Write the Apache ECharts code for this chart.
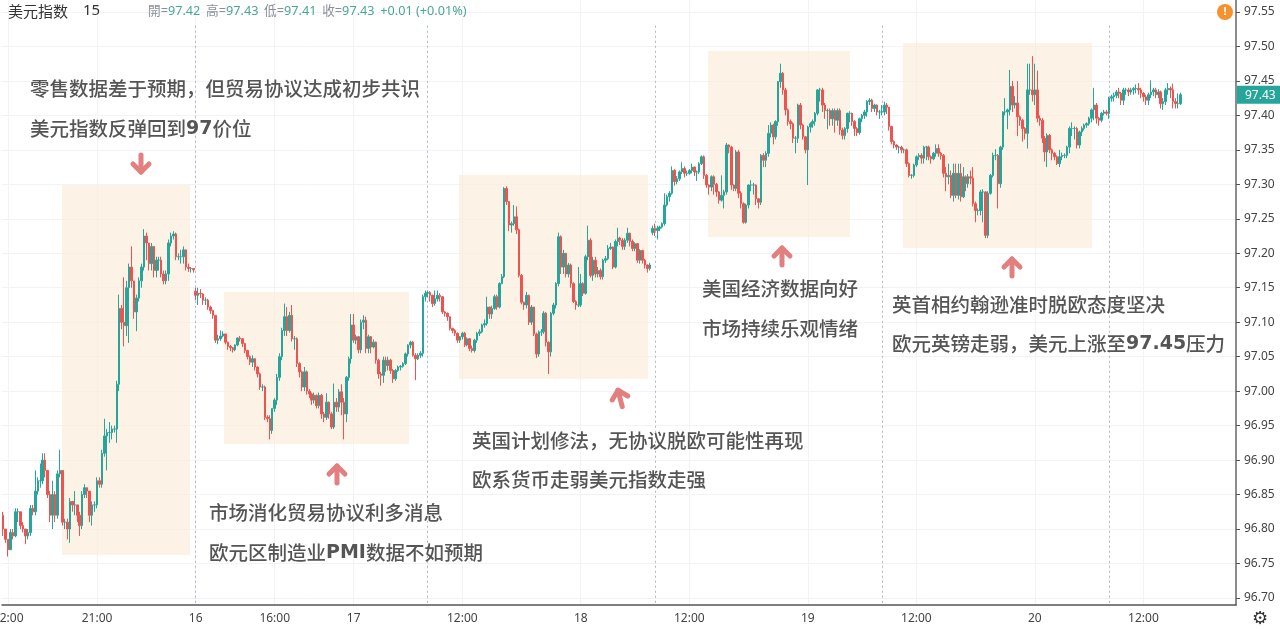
<!DOCTYPE html>
<html><head><meta charset="utf-8">
<style>html,body{margin:0;padding:0;background:#fff}#c{width:1280px;height:630px}</style>
<script src="https://cdn.jsdelivr.net/npm/echarts@6/dist/echarts.min.js"></script>
</head><body><div id="c"></div>
<script>
const priceTicks=[96.70,96.75,96.80,96.85,96.90,96.95,97.00,97.05,97.10,97.15,97.20,97.25,97.30,97.35,97.40,97.45,97.50,97.55];
const tickSlots=[2,38,78,110,142,186,234,278,326,370,418,462];
const tickLabels=['12:00','21:00','16','16:00','17','12:00','18','12:00','19','12:00','20','12:00'];
const sessionStarts=[78,172,264,356,448];
const firstOpen=96.82;
const gapOpens={78:97.145,263:97.23};
const lastPrice=97.43;
const closes=[
96.80,96.785,96.77,96.795,96.79,96.825,96.825,96.805,96.80,96.79,
96.795,96.83,96.825,96.855,96.87,96.87,96.90,96.885,96.85,96.82,
96.85,96.82,96.88,96.885,96.81,96.81,96.80,96.84,96.835,96.835,
96.82,96.805,96.85,96.86,96.855,96.82,96.835,96.835,96.87,96.865,
96.91,96.935,96.94,96.94,96.945,96.945,97.01,97.12,97.10,97.095,
97.15,97.18,97.16,97.115,97.135,97.16,97.18,97.225,97.215,97.185,
97.21,97.175,97.19,97.19,97.17,97.16,97.17,97.215,97.225,97.228,
97.195,97.195,97.195,97.205,97.18,97.178,97.178,97.176,97.139,97.142,
97.141,97.132,97.132,97.122,97.117,97.11,97.074,97.076,97.08,97.083,
97.071,97.065,97.063,97.06,97.067,97.077,97.076,97.069,97.059,97.05,
97.042,97.047,97.035,97.025,97.006,97.006,96.962,96.96,96.943,96.975,
96.987,97.02,97.05,97.088,97.108,97.088,97.11,97.076,97.076,97.04,
97.028,97.006,97.028,97.0,96.996,96.987,96.994,96.979,96.994,96.967,
96.962,96.984,96.967,96.948,96.984,96.977,96.999,96.984,96.967,97.02,
97.047,97.096,97.074,97.079,97.06,97.10,97.103,97.062,97.079,97.064,
97.071,97.045,97.025,97.023,97.045,97.037,97.045,97.03,97.018,97.03,
97.035,97.036,97.04,97.054,97.067,97.071,97.052,97.047,97.052,97.055,
97.137,97.142,97.143,97.139,97.127,97.134,97.139,97.137,97.115,97.113,
97.108,97.091,97.088,97.084,97.074,97.079,97.084,97.067,97.076,97.062,
97.059,97.074,97.084,97.086,97.096,97.098,97.122,97.112,97.12,97.137,
97.122,97.156,97.166,97.294,97.275,97.241,97.243,97.253,97.234,97.168,
97.129,97.125,97.139,97.10,97.122,97.083,97.054,97.086,97.086,97.113,
97.071,97.057,97.113,97.125,97.156,97.224,97.18,97.20,97.17,97.183,
97.156,97.13,97.125,97.125,97.156,97.142,97.195,97.219,97.168,97.19,
97.17,97.175,97.166,97.19,97.192,97.207,97.209,97.18,97.217,97.222,
97.219,97.21,97.219,97.229,97.217,97.207,97.214,97.19,97.204,97.19,
97.183,97.178,97.183,97.236,97.233,97.236,97.238,97.243,97.27,97.282,
97.287,97.32,97.304,97.308,97.318,97.323,97.316,97.316,97.32,97.325,
97.318,97.318,97.33,97.34,97.313,97.299,97.296,97.311,97.30,97.289,
97.277,97.284,97.289,97.357,97.354,97.299,97.294,97.347,97.287,97.272,
97.245,97.27,97.299,97.299,97.299,97.279,97.274,97.342,97.335,97.345,
97.374,97.386,97.369,97.391,97.449,97.461,97.437,97.408,97.391,97.388,
97.367,97.367,97.415,97.386,97.369,97.35,97.383,97.388,97.391,97.403,
97.437,97.437,97.415,97.407,97.407,97.395,97.407,97.393,97.407,97.379,
97.371,97.381,97.403,97.403,97.391,97.381,97.375,97.395,97.40,97.405,
97.42,97.422,97.41,97.415,97.405,97.405,97.405,97.415,97.412,97.384,
97.362,97.357,97.354,97.354,97.35,97.35,97.33,97.313,97.313,97.328,
97.34,97.342,97.338,97.354,97.354,97.34,97.337,97.345,97.352,97.345,
97.342,97.316,97.311,97.313,97.284,97.316,97.284,97.316,97.282,97.311,
97.301,97.311,97.309,97.272,97.262,97.262,97.289,97.289,97.226,97.287,
97.313,97.342,97.342,97.301,97.354,97.405,97.405,97.408,97.442,97.415,
97.418,97.398,97.393,97.381,97.374,97.437,97.437,97.43,97.437,97.396,
97.393,97.367,97.347,97.371,97.35,97.345,97.34,97.33,97.34,97.342,
97.342,97.354,97.381,97.381,97.381,97.357,97.376,97.381,97.386,97.388,
97.396,97.408,97.415,97.396,97.393,97.403,97.405,97.403,97.425,97.427,
97.429,97.434,97.432,97.422,97.437,97.437,97.434,97.437,97.439,97.439,
97.437,97.432,97.427,97.422,97.43,97.434,97.437,97.43,97.434,97.417,
97.42,97.437,97.439,97.437,97.42,97.417,97.417,97.43];
const highs=[
96.825,96.80,96.785,96.80,96.80,96.83,96.83,96.825,96.81,96.80,
96.80,96.835,96.835,96.885,96.875,96.895,96.91,96.91,96.885,96.855,
96.87,96.855,96.885,96.915,96.885,96.815,96.815,96.845,96.84,96.855,
96.835,96.825,96.855,96.865,96.86,96.855,96.84,96.84,96.875,96.875,
96.915,96.96,96.945,96.955,96.95,96.95,97.015,97.14,97.125,97.165,
97.16,97.185,97.21,97.16,97.14,97.165,97.185,97.235,97.23,97.215,
97.215,97.21,97.195,97.195,97.195,97.175,97.175,97.22,97.23,97.232,
97.23,97.20,97.205,97.21,97.205,97.185,97.18,97.178,97.15,97.15,
97.148,97.142,97.136,97.134,97.124,97.118,97.11,97.082,97.088,97.087,
97.083,97.072,97.067,97.064,97.068,97.078,97.08,97.077,97.07,97.06,
97.052,97.052,97.048,97.036,97.027,97.01,97.008,96.965,96.965,96.975,
96.99,97.025,97.055,97.092,97.127,97.122,97.115,97.125,97.08,97.078,
97.042,97.03,97.035,97.03,97.003,96.998,96.998,96.995,96.998,96.996,
96.97,96.997,96.985,96.97,97.011,96.99,97.003,97.01,96.99,97.022,
97.05,97.112,97.112,97.082,97.08,97.104,97.11,97.108,97.082,97.08,
97.075,97.072,97.047,97.028,97.05,97.05,97.05,97.047,97.032,97.032,
97.037,97.038,97.042,97.056,97.068,97.073,97.073,97.055,97.055,97.058,
97.14,97.146,97.146,97.145,97.14,97.146,97.146,97.142,97.138,97.116,
97.114,97.108,97.092,97.09,97.085,97.08,97.086,97.086,97.078,97.077,
97.066,97.076,97.086,97.09,97.098,97.104,97.137,97.122,97.124,97.14,
97.14,97.158,97.17,97.296,97.297,97.275,97.246,97.27,97.268,97.236,
97.17,97.13,97.144,97.14,97.125,97.122,97.085,97.088,97.09,97.116,
97.115,97.072,97.115,97.128,97.158,97.23,97.226,97.205,97.20,97.186,
97.185,97.158,97.132,97.18,97.17,97.158,97.198,97.24,97.222,97.195,
97.195,97.18,97.178,97.192,97.196,97.212,97.215,97.21,97.22,97.237,
97.224,97.222,97.222,97.237,97.23,97.22,97.216,97.215,97.206,97.205,
97.192,97.184,97.186,97.24,97.243,97.24,97.24,97.245,97.287,97.285,
97.29,97.326,97.322,97.312,97.32,97.332,97.326,97.32,97.322,97.33,
97.326,97.32,97.332,97.342,97.342,97.315,97.30,97.313,97.313,97.302,
97.29,97.313,97.292,97.36,97.358,97.356,97.30,97.35,97.35,97.29,
97.274,97.272,97.30,97.306,97.302,97.30,97.28,97.344,97.345,97.348,
97.386,97.39,97.388,97.393,97.45,97.475,97.463,97.44,97.41,97.394,
97.39,97.37,97.417,97.418,97.388,97.37,97.385,97.39,97.394,97.405,
97.438,97.44,97.44,97.418,97.41,97.41,97.41,97.41,97.41,97.41,
97.382,97.383,97.404,97.406,97.404,97.393,97.383,97.397,97.402,97.408,
97.422,97.425,97.424,97.417,97.416,97.408,97.415,97.42,97.418,97.412,
97.385,97.364,97.358,97.356,97.356,97.352,97.352,97.332,97.315,97.33,
97.342,97.345,97.345,97.356,97.356,97.356,97.342,97.347,97.358,97.358,
97.347,97.344,97.325,97.33,97.32,97.33,97.33,97.33,97.33,97.325,
97.313,97.315,97.32,97.325,97.275,97.265,97.292,97.293,97.29,97.29,
97.315,97.346,97.351,97.344,97.356,97.406,97.425,97.41,97.466,97.45,
97.428,97.45,97.40,97.395,97.383,97.475,97.475,97.486,97.475,97.465,
97.40,97.396,97.37,97.374,97.373,97.352,97.347,97.342,97.35,97.346,
97.345,97.356,97.384,97.39,97.384,97.383,97.378,97.384,97.388,97.39,
97.398,97.41,97.44,97.418,97.398,97.405,97.408,97.408,97.427,97.43,
97.433,97.437,97.44,97.434,97.44,97.44,97.44,97.44,97.441,97.445,
97.447,97.44,97.434,97.43,97.433,97.451,97.44,97.44,97.438,97.436,
97.425,97.44,97.447,97.442,97.446,97.425,97.432,97.433];
const lows=[
96.79,96.78,96.76,96.77,96.785,96.788,96.81,96.80,96.795,96.778,
96.785,96.79,96.82,96.82,96.85,96.86,96.865,96.875,96.845,96.81,
96.80,96.81,96.815,96.875,96.805,96.80,96.785,96.78,96.825,96.82,
96.81,96.79,96.80,96.845,96.845,96.81,96.805,96.825,96.83,96.86,
96.86,96.905,96.885,96.925,96.93,96.94,96.925,97.0,97.09,97.065,
97.08,97.07,97.15,97.105,97.087,97.13,97.15,97.175,97.19,97.175,
97.175,97.165,97.165,97.175,97.165,97.155,97.155,97.16,97.21,97.22,
97.19,97.19,97.185,97.185,97.175,97.173,97.172,97.172,97.132,97.125,
97.135,97.125,97.125,97.118,97.112,97.105,97.07,97.068,97.073,97.078,
97.068,97.06,97.058,97.056,97.058,97.065,97.072,97.064,97.055,97.046,
97.038,97.035,97.03,97.02,97.002,97.0,96.958,96.955,96.93,96.938,
96.97,96.98,97.015,97.045,97.08,97.08,97.085,97.072,97.06,97.035,
97.02,97.0,97.0,96.995,96.99,96.98,96.982,96.975,96.975,96.96,
96.955,96.958,96.96,96.945,96.945,96.97,96.97,96.965,96.93,96.955,
97.015,97.04,97.07,97.068,97.055,97.055,97.09,97.055,97.055,97.055,
97.062,97.04,97.018,97.008,97.012,97.028,97.03,97.025,97.012,97.015,
97.028,97.03,97.034,97.038,97.05,97.062,97.05,97.016,97.045,97.048,
97.05,97.13,97.136,97.13,97.122,97.124,97.13,97.13,97.112,97.108,
97.102,97.088,97.084,97.08,97.07,97.07,97.075,97.064,97.065,97.058,
97.056,97.056,97.07,97.08,97.084,97.092,97.095,97.105,97.105,97.118,
97.118,97.12,97.155,97.164,97.27,97.232,97.23,97.24,97.228,97.165,
97.126,97.118,97.12,97.096,97.096,97.08,97.048,97.05,97.08,97.083,
97.065,97.025,97.05,97.11,97.12,97.152,97.17,97.17,97.165,97.165,
97.15,97.128,97.118,97.122,97.122,97.138,97.14,97.19,97.165,97.16,
97.165,97.165,97.162,97.162,97.186,97.19,97.205,97.177,97.178,97.21,
97.212,97.205,97.205,97.215,97.21,97.203,97.203,97.186,97.185,97.185,
97.178,97.172,97.175,97.226,97.225,97.22,97.232,97.236,97.24,97.268,
97.275,97.285,97.298,97.30,97.305,97.315,97.31,97.312,97.314,97.316,
97.312,97.305,97.315,97.328,97.308,97.295,97.285,97.29,97.285,97.282,
97.272,97.275,97.265,97.285,97.345,97.292,97.29,97.29,97.28,97.265,
97.243,97.243,97.265,97.29,97.285,97.27,97.265,97.27,97.325,97.325,
97.34,97.368,97.358,97.365,97.385,97.44,97.43,97.40,97.385,97.38,
97.36,97.345,97.36,97.38,97.365,97.345,97.299,97.375,97.382,97.385,
97.40,97.42,97.405,97.395,97.38,97.385,97.385,97.375,97.385,97.372,
97.365,97.365,97.375,97.39,97.385,97.37,97.37,97.372,97.39,97.395,
97.398,97.415,97.405,97.405,97.40,97.395,97.40,97.40,97.402,97.378,
97.358,97.352,97.35,97.345,97.345,97.345,97.325,97.31,97.308,97.31,
97.325,97.335,97.33,97.33,97.335,97.335,97.33,97.335,97.34,97.34,
97.336,97.31,97.29,97.30,97.28,97.275,97.28,97.278,97.275,97.28,
97.29,97.295,97.30,97.268,97.245,97.255,97.255,97.245,97.222,97.222,
97.285,97.31,97.335,97.265,97.295,97.35,97.40,97.38,97.40,97.405,
97.41,97.37,97.385,97.362,97.365,97.352,97.43,97.42,97.415,97.39,
97.385,97.36,97.333,97.325,97.345,97.335,97.335,97.328,97.325,97.335,
97.338,97.338,97.345,97.37,97.365,97.352,97.352,97.37,97.378,97.382,
97.385,97.39,97.393,97.388,97.385,97.39,97.40,97.40,97.395,97.42,
97.42,97.425,97.425,97.415,97.415,97.43,97.428,97.43,97.43,97.432,
97.43,97.425,97.42,97.415,97.415,97.425,97.428,97.425,97.425,97.41,
97.408,97.415,97.43,97.425,97.41,97.41,97.41,97.415];

const UP='#26a69a',DOWN='#ef5350',SLOTS=500;
const categories=Array.from({length:SLOTS},(_,i)=>{const k=tickSlots.indexOf(i);return k>=0?tickLabels[k]:'';});
const ohlc=closes.map((c,i)=>[i===0?firstOpen:(gapOpens[i]!==undefined?gapOpens[i]:closes[i-1]),c,lows[i],highs[i]]);
const isTick=i=>tickSlots.includes(i);
const CJK='"Noto Sans CJK SC","Noto Sans",sans-serif';
const noteStyle={fontFamily:CJK,fontSize:19.5,fill:'#555',fontWeight:500};
const note=(x,y,text)=>({type:'text',z:8,x,y,style:Object.assign({},noteStyle,{text,verticalAlign:'middle',rich:{
  b:{fontFamily:'"DejaVu Sans"',fontWeight:'bold',fontSize:19,fill:'#555'}}})});
const band=(x,y,w,h)=>({type:'rect',z:1,shape:{x,y,width:w,height:h},style:{fill:'rgba(252,234,214,0.62)'}});
const arrow=(x,y,rot)=>({type:'group',z:8,x,y,rotation:rot,children:[
  {type:'polyline',shape:{points:[[0,-9],[0,8]]},style:{stroke:'#e27f7f',lineWidth:5,fill:null,lineCap:'round'}},
  {type:'polyline',shape:{points:[[-8,0],[0,8],[8,0]]},style:{stroke:'#e27f7f',lineWidth:5,fill:null,lineCap:'round',lineJoin:'round'}}]});
const hdrG={fontFamily:'"Noto Sans",'+CJK,fontSize:12.7,fill:'#8a8f98'};
const hdrV={fontFamily:'"Noto Sans"',fontSize:12.7,fill:'#4aa795'};
const chart=echarts.init(document.getElementById('c'),null,{renderer:'canvas'});
chart.setOption({
 animation:false,backgroundColor:'#fff',
 grid:{left:2,right:44,top:0,bottom:25,outerBoundsMode:'none'},
 xAxis:{type:'category',data:categories,boundaryGap:true,
  axisLine:{lineStyle:{color:'#555',width:1.5}},
  axisTick:{alignWithLabel:true,interval:(i)=>isTick(i),length:4,lineStyle:{color:'#555'}},
  axisLabel:{interval:(i)=>isTick(i),color:'#444',fontFamily:'"Noto Sans"',fontSize:12,margin:8,hideOverlap:false,showMinLabel:true},
  splitLine:{show:true,alignWithLabel:true,interval:(i)=>isTick(i),lineStyle:{color:'#f1f3f6',width:1}}},
 yAxis:{type:'value',position:'right',min:96.6898,max:97.5674,scale:true,
  axisLine:{show:true,lineStyle:{color:'#666',width:1.5}},
  axisTick:{show:true,length:4,customValues:priceTicks,lineStyle:{color:'#555'}},
  axisLabel:{customValues:priceTicks,formatter:v=>v.toFixed(2),color:'#444',fontFamily:'"Noto Sans"',fontSize:12,margin:8,padding:[2,0,0,0]},
  splitLine:{show:true,lineStyle:{color:'#f1f3f6',width:1}}},
 series:[{type:'candlestick',data:ohlc,barWidth:2,z:5,
  itemStyle:{color:UP,color0:DOWN,borderColor:UP,borderColor0:DOWN,borderWidth:1},
  markLine:{silent:true,symbol:'none',animation:false,
   data:sessionStarts.map(s=>[{xAxis:s,yAxis:97.53},{xAxis:s,yAxis:96.6898}]),
   label:{show:false},
   lineStyle:{type:[2,3],color:'#aeb8c4',width:1}}}]
});
const tagY=chart.convertToPixel({yAxisIndex:0},lastPrice);
chart.setOption({graphic:{elements:[
  band(62,185,128,370),band(224,292,185,152),band(459,175,189,204),band(708,51,142,186),band(903,43,189,205),
  note(30,89,'零售数据差于预期，但贸易协议达成初步共识'),
  note(30,129,'美元指数反弹回到{b|97}价位'),
  note(209,513,'市场消化贸易协议利多消息'),
  note(209,553,'欧元区制造业{b|PMI}数据不如预期'),
  note(472,441,'英国计划修法，无协议脱欧可能性再现'),
  note(472,480,'欧系货币走弱美元指数走强'),
  note(702,289,'美国经济数据向好'),
  note(702,329,'市场持续乐观情绪'),
  note(892,305,'英首相约翰逊准时脱欧态度坚决'),
  note(892,344,'欧元英镑走弱，美元上涨至{b|97.45}压力'),
  arrow(141,164,0),arrow(337,474,Math.PI),arrow(620,398,Math.PI*1.08),arrow(782,256,Math.PI),arrow(1012,267,Math.PI),
  {type:'rect',z:9,shape:{x:1237,y:tagY-9,width:43,height:18},style:{fill:UP}},
  {type:'text',z:10,x:1245,y:tagY+1,style:{text:lastPrice.toFixed(2),fontFamily:'"Noto Sans"',fontSize:12,fill:'#fff',verticalAlign:'middle'}},
  {type:'text',z:9,x:8,y:11,style:{text:'美元指数',fontFamily:CJK,fontSize:15,fill:'#333',verticalAlign:'middle'}},
  {type:'text',z:9,x:83,y:11,style:{text:'15',fontFamily:'"Noto Sans"',fontSize:15,fill:'#333',verticalAlign:'middle'}},
  {type:'text',z:9,x:148,y:11,style:{verticalAlign:'middle',
    text:'{g|開=}{v|97.42}  {g|高=}{v|97.43}  {g|低=}{v|97.41}  {g|收=}{v|97.43}  {v|+0.01 (+0.01%)}',
    fontFamily:CJK,fontSize:12.7,rich:{g:hdrG,v:hdrV}}},
  {type:'circle',z:9,shape:{cx:1225,cy:12,r:8},style:{fill:'#f6912f'}},
  {type:'text',z:10,x:1225,y:12,style:{text:'!',fontFamily:'"Noto Sans"',fontWeight:'bold',fontSize:11,fill:'#fff',align:'center',verticalAlign:'middle'}},
  {type:'text',z:9,x:1260,y:619,style:{text:'⚙',fontFamily:'"DejaVu Sans"',fontSize:18,fill:'#333',align:'center',verticalAlign:'middle'}}
]}});
</script></body></html>
